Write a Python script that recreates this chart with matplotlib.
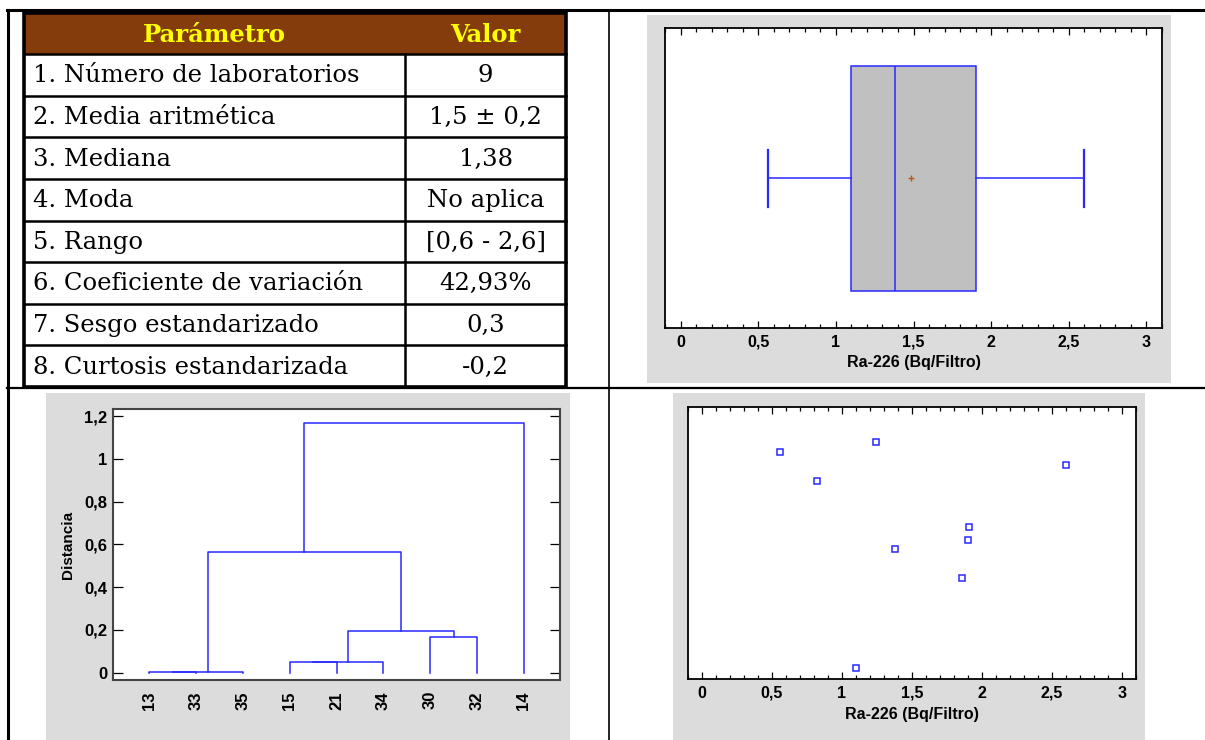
import matplotlib
matplotlib.use("Agg")
import matplotlib.pyplot as plt
from matplotlib.patches import Rectangle
from matplotlib.ticker import MultipleLocator, FuncFormatter
import numpy as np

# ---- datos ----
parametros = ["1. Número de laboratorios", "2. Media aritmética", "3. Mediana",
              "4. Moda", "5. Rango", "6. Coeficiente de variación",
              "7. Sesgo estandarizado", "8. Curtosis estandarizada"]
valores = ["9", "1,5 ± 0,2", "1,38", "No aplica", "[0,6 - 2,6]", "42,93%", "0,3", "-0,2"]

ra226 = [0.56, 0.82, 1.24, 1.38, 1.10, 1.86, 1.90, 1.91, 2.60]
dispersion_y = [0.835, 0.727, 0.870, 0.477, 0.042, 0.370, 0.510, 0.559, 0.786]

hojas = ["13", "33", "35", "15", "21", "34", "30", "32", "14"]
# fusiones: (grupo a, grupo b, distancia); grupos 0-8 son hojas, 9.. los nuevos
fusiones = [(0, 1, 0.002), (9, 2, 0.005), (3, 4, 0.048), (11, 5, 0.049),
            (6, 7, 0.168), (12, 13, 0.195), (10, 14, 0.566), (15, 8, 1.166)]

W, H = 1205, 740
fig = plt.figure(figsize=(W / 100, H / 100), dpi=100)

bg = fig.add_axes([0, 0, 1, 1], zorder=0)
bg.set_xlim(0, W)
bg.set_ylim(H, 0)
bg.axis("off")


def px_axes(l, t, r, b):
    return fig.add_axes([l / W, 1 - b / H, (r - l) / W, (b - t) / H], zorder=2)


coma = FuncFormatter(lambda v, p: f"{v:g}".replace(".", ","))
azul = "#2828FF"
gris = "#DCDCDC"

# ---- marco general ----
bg.plot([7, W], [10, 10], color="black", lw=2.2)
bg.plot([8, 8], [10, H], color="black", lw=2.2)
bg.plot([609, 609], [10, H], color="black", lw=1.2)
bg.plot([7, W], [388, 388], color="black", lw=1.6)

# ---- tabla ----
tl, tr, tc = 24, 566, 405
tt, th_ = 13, 54
rh = (387 - th_) / len(parametros)
bg.add_patch(Rectangle((tl, tt), tr - tl, th_ - tt, facecolor="#843C0C", edgecolor="none"))
bg.text((tl + tc) / 2, (tt + th_) / 2 + 1, "Parámetro", ha="center", va="center",
        color="#FFFF00", fontsize=17.5, fontweight="bold", family="DejaVu Serif")
bg.text((tc + tr) / 2, (tt + th_) / 2 + 1, "Valor", ha="center", va="center",
        color="#FFFF00", fontsize=17.5, fontweight="bold", family="DejaVu Serif")
for i, (p, v) in enumerate(zip(parametros, valores)):
    y0 = th_ + i * rh
    bg.plot([tl, tr], [y0, y0], color="black", lw=1.8)
    bg.text(tl + 9, y0 + rh / 2 + 1, p, ha="left", va="center", fontsize=17.5,
            family="DejaVu Serif")
    bg.text((tc + tr) / 2, y0 + rh / 2 + 1, v, ha="center", va="center", fontsize=17.5,
            family="DejaVu Serif")
bg.plot([tc, tc], [th_, 387], color="black", lw=1.8)
bg.add_patch(Rectangle((tl, tt), tr - tl, 387 - tt, facecolor="none", edgecolor="black", lw=2.6))

# ---- paneles grises ----
for l, t, r, b in [(647, 15, 1171, 383), (46, 393, 570, H), (673, 393, 1145, H)]:
    bg.add_patch(Rectangle((l, t), r - l, b - t, facecolor=gris, edgecolor="none"))


def ejes_x(ax):
    ax.set_xlim(-0.1, 3.1)
    ax.xaxis.set_major_locator(MultipleLocator(0.5))
    ax.xaxis.set_minor_locator(MultipleLocator(0.1))
    ax.xaxis.set_major_formatter(coma)
    ax.tick_params(axis="x", which="both", direction="in", top=True, bottom=True,
                   labelsize=11.5, pad=5, width=0.9)
    ax.tick_params(axis="x", which="major", length=5)
    ax.tick_params(axis="x", which="minor", length=3)
    ax.set_yticks([])
    for lab in ax.get_xticklabels():
        lab.set_fontweight("bold")
        lab.set_family("Liberation Sans")
    ax.set_xlabel("Ra-226 (Bq/Filtro)", fontsize=11.5, fontweight="bold",
                  family="Liberation Sans", labelpad=4)
    for s in ax.spines.values():
        s.set_linewidth(1.3)


# ---- diagrama de caja ----
ax1 = px_axes(665, 28, 1162, 328)
ax1.boxplot([ra226], orientation="horizontal", positions=[0.5], widths=0.75,
            whis=(0, 100), patch_artist=True, showmeans=True, capwidths=0.19,
            boxprops=dict(facecolor="#C0C0C0", edgecolor=azul, lw=1.1),
            medianprops=dict(color=azul, lw=1.1),
            whiskerprops=dict(color=azul, lw=1.1),
            capprops=dict(color=azul, lw=1.6),
            meanprops=dict(marker="+", markeredgecolor="#B85A1E", markersize=4, mew=1))
ax1.set_ylim(0, 1)
ejes_x(ax1)

# ---- dispersion ----
ax3 = px_axes(688, 407, 1136, 679)
ax3.plot(ra226, dispersion_y, "s", mfc="white", mec=azul, ms=4, mew=1.1)
ax3.set_ylim(0, 1)
ejes_x(ax3)

# ---- dendrograma ----
ax2 = px_axes(113, 409, 560, 680)
pos = {i: float(i + 1) for i in range(len(hojas))}
alt = {i: 0.0 for i in range(len(hojas))}
for k, (a, b, h) in enumerate(fusiones):
    ax2.plot([pos[a], pos[a], pos[b], pos[b]], [alt[a], h, h, alt[b]], color=azul, lw=1.1)
    n = len(hojas) + k
    pos[n] = (pos[a] + pos[b]) / 2
    alt[n] = h
ax2.set_xlim(0.23, 9.77)
ax2.set_ylim(-0.034, 1.233)
ax2.set_xticks(range(1, len(hojas) + 1))
ax2.set_xticklabels(hojas, rotation=90, fontsize=12, fontweight="bold",
                    family="Liberation Sans")
ax2.tick_params(axis="x", length=0, pad=8)
ax2.yaxis.set_major_locator(MultipleLocator(0.2))
ax2.yaxis.set_major_formatter(coma)
ax2.tick_params(axis="y", direction="in", left=True, right=True, length=7,
                width=0.9, labelsize=12, pad=4)
for lab in ax2.get_yticklabels():
    lab.set_fontweight("bold")
    lab.set_family("Liberation Sans")
ax2.set_ylabel("Distancia", fontsize=11, fontweight="bold", family="Liberation Sans",
               labelpad=7)
for s in ax2.spines.values():
    s.set_linewidth(1.5)
    s.set_color("#444444")

fig.savefig("out.png", dpi=100)
